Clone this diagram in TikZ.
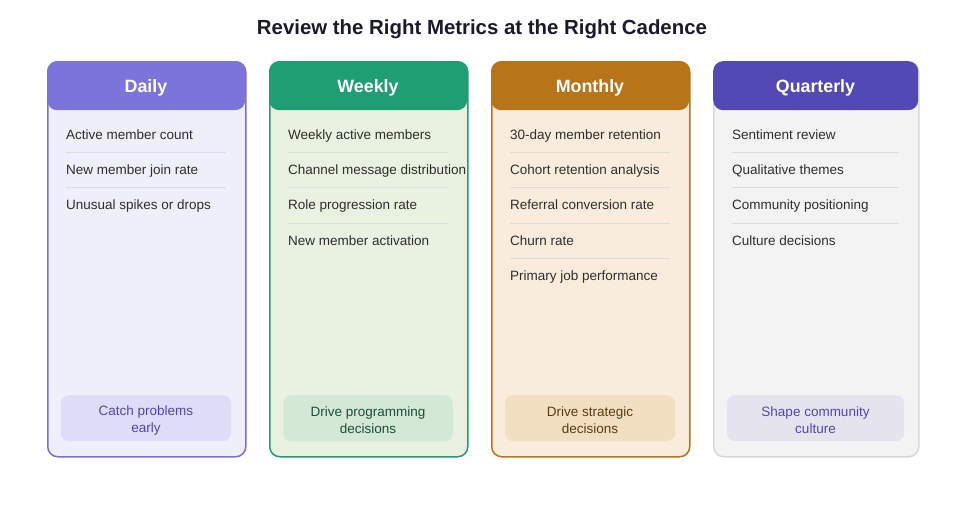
\documentclass[tikz,border=0pt]{standalone}
\usepackage{fontspec}
\setmainfont{Liberation Sans}

\definecolor{dailyhead}{HTML}{7B74DB}
\definecolor{dailybody}{HTML}{EFEEFB}
\definecolor{dailyline}{HTML}{7B6FD6}
\definecolor{dailyfoot}{HTML}{DFDCF7}
\definecolor{dailytext}{HTML}{4F46B8}
\definecolor{weeklyhead}{HTML}{1F9E74}
\definecolor{weeklybody}{HTML}{E9F2E0}
\definecolor{weeklyline}{HTML}{1F9E74}
\definecolor{weeklyfoot}{HTML}{D3E9D5}
\definecolor{weeklytext}{HTML}{1D4D38}
\definecolor{monthlyhead}{HTML}{B87419}
\definecolor{monthlybody}{HTML}{F9ECDC}
\definecolor{monthlyline}{HTML}{B87419}
\definecolor{monthlyfoot}{HTML}{F2DFC2}
\definecolor{monthlytext}{HTML}{5B3A10}
\definecolor{quarterlyhead}{HTML}{5249B5}
\definecolor{quarterlybody}{HTML}{F3F3F3}
\definecolor{quarterlyline}{HTML}{D8D8D8}
\definecolor{quarterlyfoot}{HTML}{E5E3EE}
\definecolor{quarterlytext}{HTML}{4F46B8}
\definecolor{titletext}{HTML}{1A1A2E}
\definecolor{itemtext}{HTML}{2E2E2E}
\definecolor{sepline}{HTML}{DCDCDC}

\tikzset{
  card/.style={rounded corners=10pt, line width=1.5pt, inner sep=0pt},
  cardhead/.style={rounded corners=10pt, inner sep=0pt, text=white,
    font=\fontsize{17.8}{20}\selectfont\bfseries},
  item/.style={anchor=base west, inner sep=0pt, text=itemtext,
    font=\fontsize{13.5}{16}\selectfont},
  footbox/.style={rounded corners=8pt, inner sep=0pt, align=center,
    font=\fontsize{13.5}{16.8}\selectfont},
}

% #1 name, #2 left x, #3 width, #4 heading, #5 items, #6 footer
\newcommand{\cadcard}[6]{%
  \node[card, draw=#1line, fill=#1body, minimum width=#3, minimum height=395,
    anchor=north west] (#1) at (#2,61) {};
  \node[cardhead, fill=#1head, minimum width=#3, minimum height=49,
    anchor=north west] (#1head) at (#2,61) {};
  \node[cardhead] (#1name) at ({#2+#3/2},87.5) {#4};
  \foreach \t [count=\i] in {#5}{
    \ifnum\i>1
      \draw[sepline, line width=1pt] ({#2+19},{116.8+35.4*(\i-1)}) -- ++({#3-38},0);
    \fi
    \node[item] (#1item\i) at ({#2+19},{139+35.4*(\i-1)}) {\t};
  }
  \node[footbox, fill=#1foot, text=#1text, minimum width=#3-28, minimum height=46,
    anchor=north] (#1foot) at ({#2+#3/2},395) {};
  \node[footbox, text=#1text] (#1goal) at ({#2+#3/2},420.3) {#6};
}

\begin{document}
\begin{tikzpicture}[x=1pt,y=-1pt]
\useasboundingbox[fill=white] (0,0) rectangle (980,504);

\node[text=titletext, font=\fontsize{20.4}{23}\selectfont\bfseries] (title) at (482,29.5)
  {Review the Right Metrics at the Right Cadence};

\cadcard{daily}{47}{198}{Daily}
  {Active member count, New member join rate, Unusual spikes or drops}
  {Catch problems\\early}
\cadcard{weekly}{269}{198}{Weekly}
  {Weekly active members, Channel message distribution, Role progression rate,
   New member activation}
  {Drive programming\\decisions}
\cadcard{monthly}{491}{198}{Monthly}
  {30-day member retention, Cohort retention analysis, Referral conversion rate,
   Churn rate, Primary job performance}
  {Drive strategic\\decisions}
\cadcard{quarterly}{713}{205}{Quarterly}
  {Sentiment review, Qualitative themes, Community positioning, Culture decisions}
  {Shape community\\culture}

\end{tikzpicture}
\end{document}
